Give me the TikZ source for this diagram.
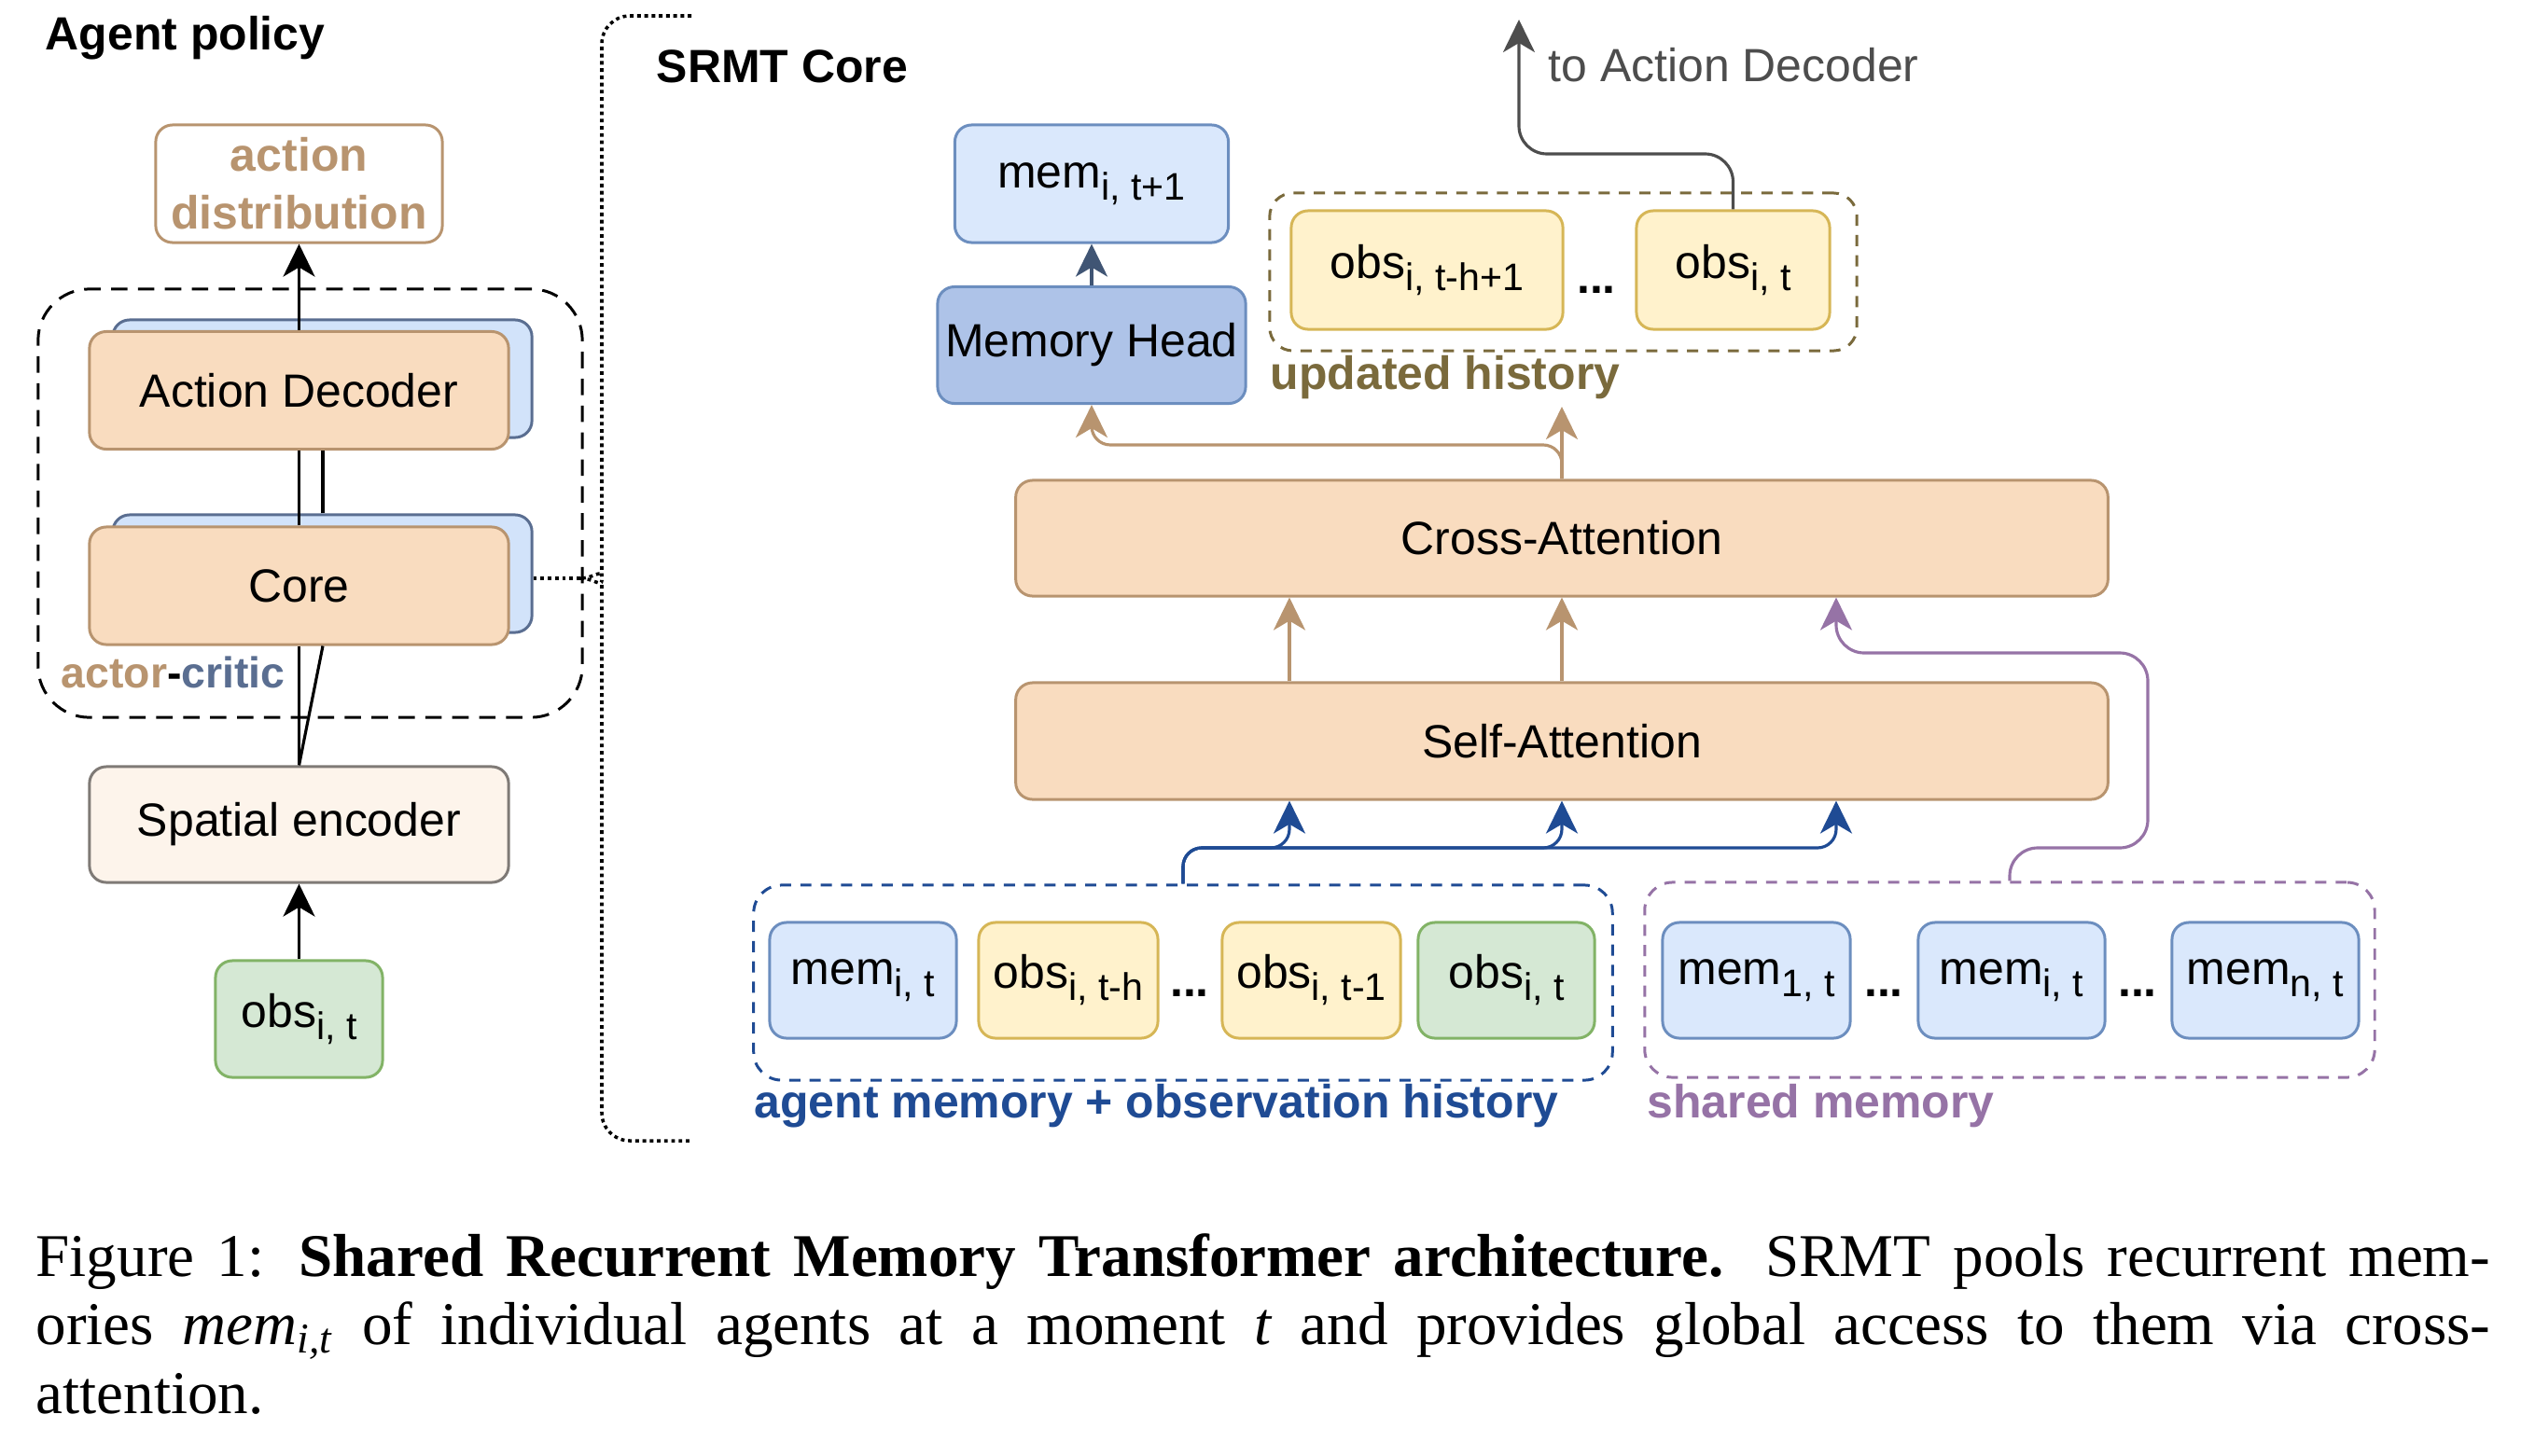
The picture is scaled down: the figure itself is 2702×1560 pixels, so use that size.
\documentclass[tikz,border=0pt]{standalone}
\usepackage{fontspec}
\setmainfont{Liberation Serif}
\setsansfont{Liberation Sans}
\usetikzlibrary{arrows.meta}

\definecolor{tanline}{HTML}{B8946F}
\definecolor{tanfill}{HTML}{F9DCBF}
\definecolor{slateline}{HTML}{5A6E91}
\definecolor{backfill}{HTML}{D2E3FA}
\definecolor{memline}{HTML}{6C8EBF}
\definecolor{memfill}{HTML}{DAE8FC}
\definecolor{headfill}{HTML}{AEC3E8}
\definecolor{obsline}{HTML}{D6B656}
\definecolor{obsfill}{HTML}{FFF2CC}
\definecolor{curline}{HTML}{82B366}
\definecolor{curfill}{HTML}{D5E8D4}
\definecolor{encline}{HTML}{7F7A76}
\definecolor{encfill}{HTML}{FDF4EB}
\definecolor{histcol}{HTML}{7A6A3C}
\definecolor{agentcol}{HTML}{1F4B94}
\definecolor{sharedcol}{HTML}{9673A6}
\definecolor{outgray}{HTML}{4D4D4D}
\definecolor{headarr}{HTML}{405574}

\newcommand{\idx}[1]{\raisebox{-3.7pt}{\fontsize{11.7}{13}\selectfont #1}}

\begin{document}
\begin{tikzpicture}[x=0.01cm, y=-0.01cm,
    every node/.style={font=\sffamily\fontsize{14.2}{17}\selectfont},
    box/.style={rectangle, rounded corners=0.18cm, line width=0.85pt, inner sep=0pt, align=center},
    tanbox/.style={box, draw=tanline, fill=tanfill, minimum width=4.49cm, minimum height=1.26cm},
    tanback/.style={box, draw=slateline, fill=backfill, minimum width=4.49cm, minimum height=1.26cm},
    membox/.style={box, draw=memline, fill=memfill, minimum width=2cm, minimum height=1.24cm},
    obsbox/.style={box, draw=obsline, fill=obsfill, minimum width=1.91cm, minimum height=1.24cm},
    curbox/.style={box, draw=curline, fill=curfill, minimum width=1.89cm, minimum height=1.24cm},
    grp/.style={rectangle, rounded corners=0.3cm, line width=0.85pt, dash pattern=on 3.4pt off 2.8pt, inner sep=0pt},
    grouplab/.style={anchor=base west, inner sep=0pt, font=\sffamily\bfseries\fontsize{14.2}{17}\selectfont},
    ellip/.style={anchor=base, font=\sffamily\bfseries\fontsize{14.2}{17}\selectfont},
    arr/.style={-{Stealth[length=0.35cm,width=0.34cm,inset=0.1cm]}, line width=0.9pt},
    brace/.style={line width=1pt, dash pattern=on 1.1pt off 1.1pt, rounded corners=0.3cm}]
\fill[white] (0,0) rectangle (2702,1560);
\useasboundingbox (0,0) rectangle (2702,1560);

% agent policy
\node[grouplab] (ptitle) at (48,53) {Agent policy};
\node[grp, draw=black, rounded corners=0.55cm, dash pattern=on 5pt off 3.2pt, minimum width=5.83cm, minimum height=4.59cm] (ac) at (332.5,539.5) {};
\node[box, draw=tanline, fill=white, minimum width=3.07cm, minimum height=1.26cm, text=tanline, font=\sffamily\bfseries\fontsize{14.2}{17.6}\selectfont] (dist) at (320.5,197) {action\\distribution};
\node[tanback] (adb) at (345.5,406) {};
\node[tanbox] (ad) at (320.5,418.5) {Action Decoder};
\node[tanback] (coreb) at (345.5,615) {};
\node[tanbox] (core) at (320.5,628) {Core};
\node[box, draw=encline, fill=encfill, minimum width=4.49cm, minimum height=1.24cm] (enc) at (320.5,884) {Spatial encoder};
\node[curbox, minimum width=1.79cm, minimum height=1.25cm] (obs) at (320.5,1092.5) {obs\idx{i, t}};
\node[grouplab, font=\sffamily\bfseries\fontsize{13.2}{16}\selectfont] (aclab) at (65,737) {\textcolor{tanline}{actor}-\textcolor{slateline}{critic}};

\draw[arr] (ad.north) -- (dist.south);
\draw[line width=0.9pt] (core.north) -- (ad.south);
\draw[line width=0.9pt] (346,0 |- coreb.north) -- (346,0 |- ad.south);
\draw[line width=0.9pt] (core.south) -- (enc.north);
\draw[line width=0.9pt] (346,0 |- core.south) -- (enc.north);
\draw[arr] (obs.north) -- (enc.south);

% bracket
\coordinate (tip) at (622,620);
\draw[brace] (741,17) -- (645,17) -- (645,588) .. controls (645,610) and (636,620) .. (tip);
\draw[brace] (tip) .. controls (636,620) and (645,630) .. (645,652) -- (645,1223) -- (741,1223);
\draw[brace] (tip -| coreb.east) -- (tip);

% SRMT core
\node[grouplab] (stitle) at (703,88) {SRMT Core};
\node[membox, minimum width=2.93cm, minimum height=1.26cm] (mnext) at (1170,197) {mem\idx{i, t+1}};
\node[box, draw=memline, fill=headfill, minimum width=3.3cm, minimum height=1.25cm] (head) at (1170,370) {Memory Head};
\node[grp, draw=histcol, rounded corners=0.25cm, minimum width=6.29cm, minimum height=1.69cm] (hist) at (1675.5,291.5) {};
\node[obsbox, minimum width=2.91cm, minimum height=1.27cm] (hfirst) at (1529.5,289.5) {obs\idx{i, t-h+1}};
\node[ellip] (hdots) at (1711,314) {...};
\node[obsbox, minimum width=2.07cm, minimum height=1.27cm] (hlast) at (1857.5,289.5) {obs\idx{i, t}};
\node[grouplab, text=histcol] (histlab) at (1361,417) {updated history};
\node[anchor=base west, inner sep=0pt, text=outgray] (outlab) at (1659,87) {to Action Decoder};
\node[tanbox, minimum width=11.7cm, minimum height=1.24cm] (cross) at (1674,577) {Cross-Attention};
\node[tanbox, minimum width=11.7cm, minimum height=1.25cm] (self) at (1674,794.5) {Self-Attention};

\node[grp, draw=agentcol, minimum width=9.2cm, minimum height=2.09cm] (agent) at (1268,1053.5) {};
\node[membox] (amem) at (925,1051) {mem\idx{i, t}};
\node[obsbox, minimum width=1.92cm] (aold) at (1145,1051) {obs\idx{i, t-h}};
\node[ellip] (adots) at (1275,1068) {...};
\node[obsbox] (aprev) at (1405.5,1051) {obs\idx{i, t-1}};
\node[curbox] (acur) at (1614.5,1051) {obs\idx{i, t}};
\node[grouplab, text=agentcol] (agentlab) at (808,1198) {agent memory + observation history};

\node[grp, draw=sharedcol, minimum width=7.82cm, minimum height=2.09cm] (shared) at (2154,1050.5) {};
\node[membox, minimum width=2.01cm] (sfirst) at (1882.5,1051) {mem\idx{1, t}};
\node[ellip] (sdots1) at (2019,1068) {...};
\node[membox] (smid) at (2156,1051) {mem\idx{i, t}};
\node[ellip] (sdots2) at (2291,1068) {...};
\node[membox] (slast) at (2428,1051) {mem\idx{n, t}};
\node[grouplab, text=sharedcol] (sharedlab) at (1765,1198) {shared memory};

\draw[arr, headarr] (head.north) -- (mnext.south);
\draw[arr, tanline] (1382,0 |- self.north) -- (1382,0 |- cross.south);
\draw[arr, tanline] (self.north) -- (cross.south);
\coordinate (histin) at (1674,436);
\draw[arr, tanline] (cross.north) -- (histin);
\draw[arr, tanline, rounded corners=0.2cm] (cross.north) -- (1674,477) -| (head.south);

\draw[arr, agentcol, rounded corners=0.2cm] (agent.north) |- (1382,909) -- (1382,0 |- self.south);
\draw[arr, agentcol, rounded corners=0.2cm] (agent.north) |- (1674,909) -- (self.south);
\draw[arr, agentcol, rounded corners=0.2cm] (agent.north) |- (1968,909) -- (1968,0 |- self.south);

\draw[arr, sharedcol, rounded corners=0.3cm] (shared.north) |- (2302,909) |- (1968,700) -- (1968,0 |- cross.south);

\coordinate (toad) at (1628,21);
\draw[arr, outgray, rounded corners=0.3cm] (hlast.north) |- (1628,165) -- (toad);

% caption
\node[anchor=base west, inner sep=0pt, text width=26.29cm, align=justify, font=\rmfamily\fontsize{18.5}{20.9}\selectfont] (cap) at (38,1368) {Figure 1: \textbf{Shared Recurrent Memory Transformer architecture.} SRMT pools recurrent mem-\linebreak ories \textit{mem}\textsubscript{\textit{i,t}} of individual agents at a moment \textit{t} and provides global access to them via cross-\linebreak attention.};
\end{tikzpicture}
\end{document}
